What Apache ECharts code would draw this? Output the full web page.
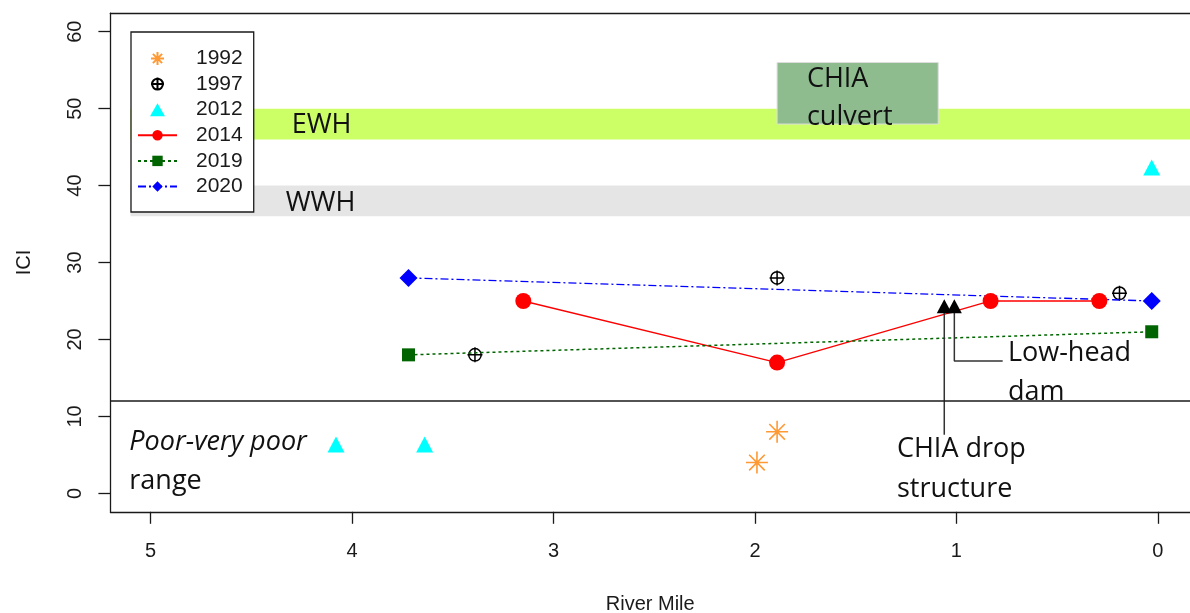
<!DOCTYPE html>
<html>
<head>
<meta charset="utf-8">
<script src="https://cdn.jsdelivr.net/npm/echarts@6/dist/echarts.min.js"></script>
<style>
  html, body { margin: 0; padding: 0; background: #fff; }
  #chart { width: 1190px; height: 613px; }
</style>
</head>
<body>
<div id="chart"></div>
<script>
// ICI scores by river mile, one array per survey year
const years = ['1992', '1997', '2012', '2014', '2019', '2020'];
const s1992 = [[1.89, 8], [1.99, 4]];
const s1997 = [[3.39, 18], [1.89, 28], [0.19, 26]];
const s2012 = [[4.08, 6], [3.64, 6], [0.03, 42]];
const s2014 = [[3.15, 25], [1.89, 17], [0.83, 25], [0.29, 25]];
const s2019 = [[3.72, 18], [0.03, 21]];
const s2020 = [[3.72, 28], [0.03, 25]];

// in-stream structures (river mile, ICI) and their leader lines
const structures = [[1.06, 24], [1.01, 24]];
const dropLeader = [[1.06, 24], [1.06, 7.6]];
const damLeader = [[1.01, 24], [1.01, 17.2], [0.77, 17.2]];

// axis ticks
const xTicks = [0, 1, 2, 3, 4, 5];
const yTicks = [0, 10, 20, 30, 40, 50, 60];

// aquatic life use ranges and the culvert reach
const ewhBand = [46, 50];
const wwhBand = [36, 40];
const bandStart = 5.1;
const poorLimit = 12;
const culvertReach = [1.89, 1.09];
const culvertSpan = [48, 56];

// text notes: [river mile, ICI, text, italic]
const notes = [
  [4.30, 47.8, 'EWH', false],
  [4.33, 37.7, 'WWH', false],
  [1.742, 53.8, 'CHIA', false],
  [1.742, 48.9, 'culvert', false],
  [0.744, 18.15, 'Low-head', false],
  [0.744, 13.1, 'dam', false],
  [1.295, 5.7, 'CHIA drop', false],
  [1.295, 0.55, 'structure', false],
  [5.106, 6.6, 'Poor-very poor', true],
  [5.106, 1.6, 'range', false]
];

const AXIS_FONT = 'Liberation Sans, Arial, sans-serif';
const NOTE_FONT = '"Open Sans", Lato, sans-serif';
const INK = '#1a1a1a';
const X_MIN = -0.16, X_MAX = 5.2;

const asterisk = 'path://M0,5L10,5M5,0L5,10M1.46,1.46L8.54,8.54M8.54,1.46L1.46,8.54';
const circlePlus = 'path://M6,0L6,12M0,6L12,6M11,6A5,5,0,1,1,1,6A5,5,0,1,1,11,6Z';
const triangleUp = 'path://M5,0L10,8.7L0,8.7Z';

const chart = echarts.init(document.getElementById('chart'), null, { renderer: 'canvas' });

const frameLine = { show: true, onZero: false, lineStyle: { color: INK, width: 1.3 } };

chart.setOption({
  animation: false,
  backgroundColor: '#fff',
  grid: {
    left: 110.4, top: 13.25, right: 0, bottom: 101.2, show: false,
    containLabel: false, outerBoundsMode: 'none'
  },
  legend: {
    data: [
      { name: '1992' },
      { name: '1997' },
      { name: '2012', icon: triangleUp },
      { name: '2014' },
      { name: '2019' },
      { name: '2020' }
    ],
    orient: 'vertical',
    left: 131, top: 32,
    backgroundColor: '#fff',
    borderColor: INK, borderWidth: 1.3, borderRadius: 0,
    padding: [16, 11, 15, 6],
    itemWidth: 39, itemHeight: 13, itemGap: 4.6,
    selectedMode: false,
    textStyle: { fontFamily: AXIS_FONT, fontSize: 21, color: INK, lineHeight: 21, padding: [0, 0, 0, 14] }
  },
  xAxis: [
    {
      type: 'value', inverse: true, min: X_MIN, max: X_MAX, position: 'bottom',
      axisLine: frameLine,
      splitLine: { show: false },
      axisTick: { show: true, length: 12, customValues: xTicks, lineStyle: { color: INK, width: 1.3 } },
      axisLabel: { customValues: xTicks, margin: 30, fontFamily: AXIS_FONT, fontSize: 20, color: INK },
      name: 'River Mile', nameLocation: 'middle', nameGap: 83,
      nameTextStyle: { fontFamily: AXIS_FONT, fontSize: 20, color: INK }
    },
    {
      // top edge of the plot frame
      type: 'value', inverse: true, min: X_MIN, max: X_MAX, position: 'top',
      axisLine: frameLine,
      axisTick: { show: false }, axisLabel: { show: false }, splitLine: { show: false }
    }
  ],
  yAxis: {
    type: 'value', min: -2.4, max: 62.4,
    axisLine: frameLine,
    splitLine: { show: false },
    axisTick: { show: true, length: 12, customValues: yTicks, lineStyle: { color: INK, width: 1.3 } },
    axisLabel: { customValues: yTicks, rotate: 90, margin: 25, fontFamily: AXIS_FONT, fontSize: 20, color: INK },
    name: 'ICI', nameLocation: 'middle', nameGap: 76,
    nameTextStyle: { fontFamily: AXIS_FONT, fontSize: 20, color: INK }
  },
  series: [
    {
      // use-designation bands, culvert reach and the poor-range limit
      name: 'ranges', type: 'line', data: [], silent: true,
      markArea: {
        silent: true,
        data: [
          [{ coord: [bandStart, ewhBand[1]], itemStyle: { color: '#CCFF66' } }, { coord: [X_MIN, ewhBand[0]] }],
          [{ coord: [bandStart, wwhBand[1]], itemStyle: { color: '#E5E5E5' } }, { coord: [X_MIN, wwhBand[0]] }],
          [{ coord: [culvertReach[0], culvertSpan[1]], itemStyle: { color: '#8FBC8F', borderColor: '#DDDDDD', borderWidth: 1 } },
           { coord: [culvertReach[1], culvertSpan[0]] }]
        ]
      },
      markLine: {
        silent: true, symbol: ['none', 'none'],
        label: { show: false },
        lineStyle: { color: INK, width: 1.5, type: 'solid' },
        data: [{ yAxis: poorLimit }]
      }
    },
    {
      name: '1992', type: 'scatter', data: s1992,
      symbol: asterisk, symbolSize: 22,
      itemStyle: { color: 'none', borderColor: '#FF9933', borderWidth: 1.6, opacity: 1 }
    },
    {
      name: '1997', type: 'scatter', data: s1997,
      symbol: circlePlus, symbolSize: 15,
      itemStyle: { color: 'none', borderColor: '#000', borderWidth: 1.5, opacity: 1 }
    },
    {
      name: '2012', type: 'scatter', data: s2012,
      symbol: 'triangle', symbolSize: [17, 16], symbolOffset: [0, -2.6],
      itemStyle: { color: '#00FFFF', opacity: 1 }
    },
    {
      name: '2014', type: 'line', data: s2014,
      symbol: 'circle', symbolSize: 16, showSymbol: true,
      itemStyle: { color: '#FF0000' },
      lineStyle: { color: '#FF0000', width: 1.3 }
    },
    {
      name: '2019', type: 'line', data: s2019,
      symbol: 'rect', symbolSize: 13,
      itemStyle: { color: '#006400' },
      lineStyle: { color: '#006400', width: 1.5, type: [3, 3] }
    },
    {
      name: '2020', type: 'line', data: s2020,
      symbol: 'diamond', symbolSize: [18, 18],
      itemStyle: { color: '#0000FF' },
      lineStyle: { color: '#0000FF', width: 1.3, type: [8, 3, 2, 3] }
    },
    {
      name: 'structures', type: 'scatter', data: structures,
      symbol: 'triangle', symbolSize: [15, 14], symbolOffset: [0, -2.4],
      itemStyle: { color: '#000', opacity: 1 }, z: 4
    },
    {
      name: 'drop leader', type: 'line', data: dropLeader,
      symbol: 'none', lineStyle: { color: '#333', width: 1.5 }, z: 3
    },
    {
      name: 'dam leader', type: 'line', data: damLeader,
      symbol: 'none', lineStyle: { color: '#333', width: 1.5 }, z: 3
    },
    {
      name: 'notes', type: 'custom', data: notes.map(n => [n[0], n[1]]),
      encode: { x: 0, y: 1 }, silent: true, z: 10, clip: false,
      renderItem: function (params, api) {
        const n = notes[params.dataIndex];
        const p = api.coord([api.value(0), api.value(1)]);
        return {
          type: 'text', x: p[0], y: p[1],
          style: {
            text: n[2], fill: '#111',
            font: (n[3] ? 'italic ' : '') + '27px ' + NOTE_FONT,
            align: 'left', verticalAlign: 'middle'
          }
        };
      }
    }
  ]
});
</script>
</body>
</html>
